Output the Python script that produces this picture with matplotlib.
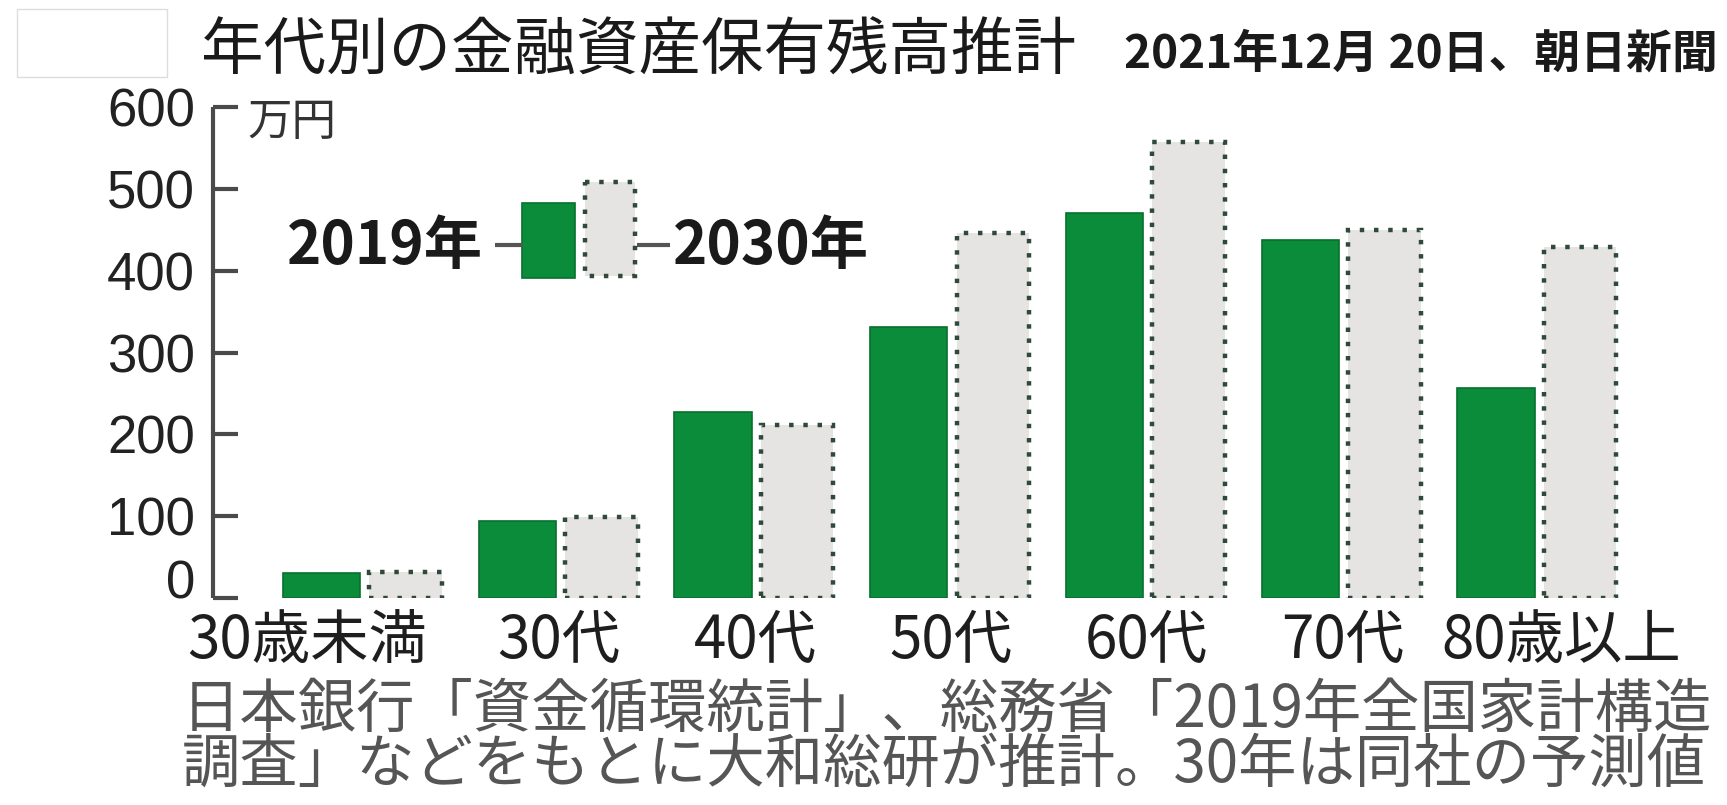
import matplotlib
matplotlib.use('Agg')
import matplotlib.pyplot as plt
import matplotlib.transforms as mtransforms
from matplotlib.patches import Rectangle
import numpy as np

plt.rcParams['font.family'] = ['Noto Sans CJK JP', 'DejaVu Sans']

# 年代別の金融資産保有残高（万円）
ages = ['30歳未満', '30代', '40代', '50代', '60代', '70代', '80歳以上']
assets_2019 = [30, 94, 227, 331, 470, 438, 257]
assets_2030 = [32, 99, 211, 446, 557, 450, 429]
y_ticks = [0, 100, 200, 300, 400, 500, 600]

GREEN = '#0b8c3b'
GREEN_EDGE = '#07702e'
GRAY_FILL = '#e6e3e3'
DOT = '#2f4a3b'
AXIS = '#4a4a4a'

W, H = 1727, 805
fig = plt.figure(figsize=(W / 100, H / 100), dpi=100)
fig.patch.set_facecolor('white')

# 主グラフ領域（左の軸線 x=213px、0 が y=598px、600 が y=107px）
left_px, right_px = 213, W
top_px, bottom_px = 107, 598
ax = fig.add_axes([left_px / W, 1 - bottom_px / H,
                   (right_px - left_px) / W, (bottom_px - top_px) / H])

x = np.arange(len(ages))
ax.bar(x - 0.215, assets_2019, width=0.395, color=GREEN,
       edgecolor=GREEN_EDGE, linewidth=1.2, zorder=2)
ax.bar(x + 0.215, assets_2030, width=0.37, color=GRAY_FILL,
       edgecolor=DOT, linewidth=3.2, linestyle=(0, (1, 2.2)), zorder=2)

ax.set_xlim(-0.769, 6.965)
ax.set_ylim(0, 600)
ax.set_facecolor('none')
for side in ('top', 'right', 'bottom'):
    ax.spines[side].set_visible(False)
ax.spines['left'].set_color(AXIS)
ax.spines['left'].set_linewidth(3)
ax.spines['left'].set_capstyle('butt')

ax.set_yticks(y_ticks)
ax.set_yticklabels([str(v) for v in y_ticks], family='Liberation Sans')
ax.tick_params(axis='y', direction='in', length=18, width=3, color=AXIS,
               pad=13, labelsize=38, labelcolor='#222222')
ax.yaxis.get_major_ticks()[0].label1.set_verticalalignment('baseline')
ax.set_xticks([])

# 横軸ラベル（両端は少しずらす）
label_shift = [-0.29, 0, 0, 0, 0, 0, 0.12]
trans = mtransforms.blended_transform_factory(ax.transData, ax.transAxes)
for i, lab in enumerate(ages):
    ax.text(i + label_shift[i], -0.088, lab, transform=trans,
            ha='center', va='center', fontsize=42, color='#1e1e1e',
            clip_on=False)

# 注釈用のピクセル座標レイヤー
ov = fig.add_axes([0, 0, 1, 1])
ov.set_xlim(0, W)
ov.set_ylim(H, 0)
ov.axis('off')
ov.patch.set_visible(False)

ov.add_patch(Rectangle((17, 9), 150, 68, facecolor='white',
                       edgecolor='#dddddd', linewidth=1))
ov.text(201, 52, '年代別の金融資産保有残高推計', ha='left', va='center',
        fontsize=45, color='#1a1a1a')
ov.text(1718, 55, '2021年12月 20日、朝日新聞', ha='right', va='center',
        fontsize=33, color='#1a1a1a', fontweight='bold')

ov.text(248, 122, '万円', ha='left', va='center', fontsize=32,
        color='#333333')

# 凡例
ov.text(287, 247, '2019年', ha='left', va='center', fontsize=42,
        fontweight='bold', color='#1a1a1a')
ov.plot([495, 523], [245, 245], color='#555555', lw=3,
        solid_capstyle='butt')
ov.add_patch(Rectangle((522, 203), 53, 75, facecolor=GREEN,
                       edgecolor=GREEN_EDGE, linewidth=1.2))
ov.add_patch(Rectangle((585, 182), 50, 94, facecolor=GRAY_FILL,
                       edgecolor=DOT, linewidth=3.2,
                       linestyle=(0, (1, 2.2))))
ov.plot([637, 670], [245, 245], color='#555555', lw=3,
        solid_capstyle='butt')
ov.text(673, 247, '2030年', ha='left', va='center', fontsize=42,
        fontweight='bold', color='#1a1a1a')

# 出典
note_color = '#555555'
ov.text(182, 710, '日本銀行「資金循環統計」、総務省「2019年全国家計構造',
        ha='left', va='center', fontsize=42, color=note_color)
ov.text(182, 765, '調査」などをもとに大和総研が推計。30年は同社の予測値',
        ha='left', va='center', fontsize=42, color=note_color)

fig.savefig('out.png', dpi=100, facecolor='white')
